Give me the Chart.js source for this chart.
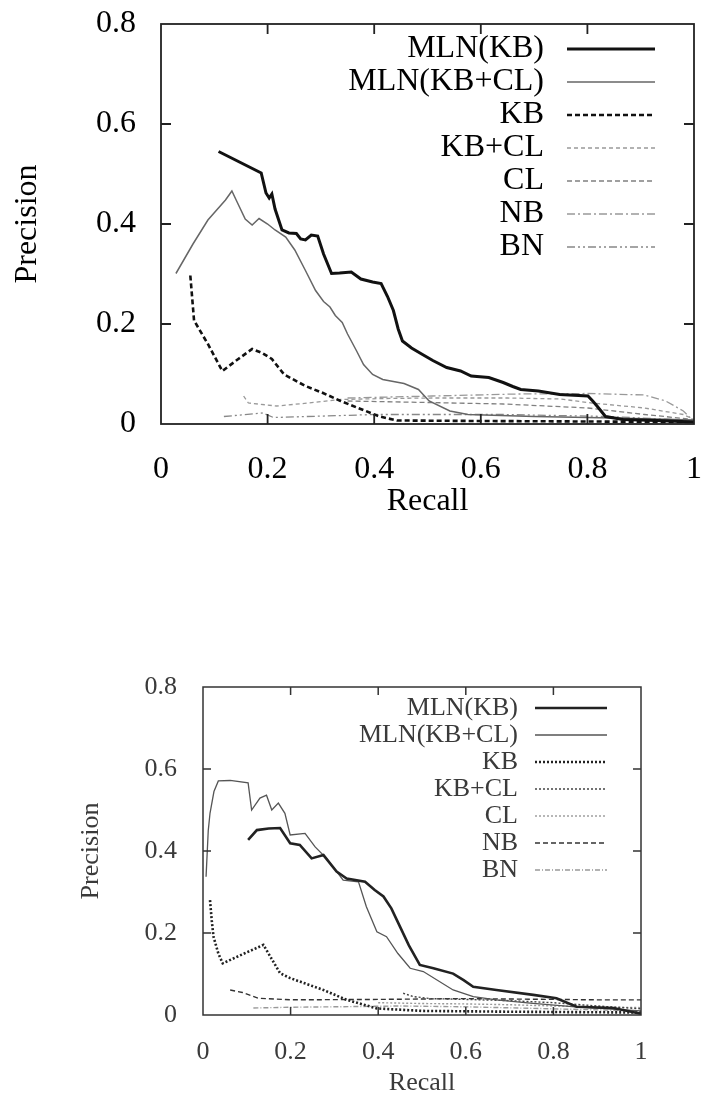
<!DOCTYPE html>
<html>
<head>
<meta charset="utf-8">
<script src="https://cdn.jsdelivr.net/npm/chart.js@4/dist/chart.umd.min.js"></script>
<style>
html, body { margin: 0; padding: 0; background: #fff; }
body { width: 704px; height: 1094px; position: relative; overflow: hidden; }
#top { position: absolute; left: 0; top: 0; }
#bottom { position: absolute; left: 0; top: 560px; }
</style>
</head>
<body>
<canvas id="top" width="704" height="540"></canvas>
<canvas id="bottom" width="704" height="560"></canvas>
<script>
// tick values (same for both plots)
const xTicks = [0, 0.2, 0.4, 0.6, 0.8, 1];
const yTicks = [0, 0.2, 0.4, 0.6, 0.8];
const labels = ['MLN(KB)', 'MLN(KB+CL)', 'KB', 'KB+CL', 'CL', 'NB', 'BN'];

// upper plot: [recall, precision]
const top_mlnKB = [[0.108,0.545],[0.188,0.502],[0.197,0.462],[0.203,0.452],[0.208,0.46],[0.214,0.43],[0.227,0.388],[0.24,0.382],[0.254,0.381],[0.262,0.37],[0.271,0.368],[0.282,0.378],[0.294,0.376],[0.305,0.34],[0.32,0.301],[0.335,0.302],[0.357,0.304],[0.375,0.29],[0.397,0.284],[0.413,0.281],[0.425,0.255],[0.436,0.227],[0.445,0.19],[0.453,0.166],[0.47,0.152],[0.489,0.14],[0.51,0.127],[0.536,0.113],[0.562,0.106],[0.582,0.096],[0.615,0.093],[0.642,0.083],[0.66,0.075],[0.675,0.069],[0.708,0.066],[0.748,0.059],[0.801,0.056],[0.81,0.046],[0.818,0.036],[0.834,0.015],[0.867,0.009],[0.93,0.007],[1.0,0.004]];
const top_mlnKBCL = [[0.028,0.301],[0.06,0.36],[0.088,0.408],[0.121,0.448],[0.133,0.466],[0.141,0.448],[0.158,0.41],[0.171,0.398],[0.184,0.411],[0.2,0.4],[0.214,0.388],[0.234,0.374],[0.251,0.348],[0.271,0.307],[0.29,0.267],[0.305,0.245],[0.317,0.234],[0.327,0.217],[0.34,0.203],[0.35,0.18],[0.367,0.146],[0.38,0.119],[0.397,0.099],[0.416,0.089],[0.456,0.081],[0.483,0.069],[0.503,0.046],[0.542,0.026],[0.576,0.019],[0.7,0.015],[0.85,0.012],[1.0,0.008]];
const top_KB = [[0.055,0.297],[0.062,0.207],[0.088,0.16],[0.115,0.106],[0.145,0.13],[0.171,0.15],[0.19,0.142],[0.208,0.13],[0.231,0.099],[0.271,0.076],[0.304,0.062],[0.337,0.046],[0.377,0.029],[0.41,0.015],[0.443,0.007],[0.6,0.006],[0.8,0.005],[1.0,0.004]];
const top_KBCL = [[0.155,0.056],[0.164,0.042],[0.217,0.036],[0.277,0.042],[0.337,0.049],[0.42,0.051],[0.509,0.052],[0.65,0.052],[0.75,0.05],[0.808,0.042],[0.907,0.032],[0.98,0.019],[1.0,0.009]];
const top_CL = [[0.35,0.046],[0.5,0.043],[0.642,0.04],[0.801,0.032],[0.907,0.019],[1.0,0.009]];
const top_NB = [[0.35,0.052],[0.509,0.056],[0.668,0.06],[0.8,0.061],[0.907,0.058],[0.947,0.046],[0.98,0.026],[1.0,0.005]];
const top_BN = [[0.118,0.015],[0.191,0.022],[0.211,0.013],[0.403,0.019],[0.642,0.019],[0.841,0.015],[1.0,0.007]];

// lower plot: [recall, precision]
const bot_mlnKB = [[0.103,0.427],[0.123,0.451],[0.15,0.455],[0.176,0.456],[0.199,0.419],[0.221,0.415],[0.248,0.382],[0.275,0.39],[0.305,0.35],[0.328,0.333],[0.37,0.325],[0.392,0.305],[0.412,0.289],[0.43,0.26],[0.45,0.215],[0.47,0.17],[0.495,0.122],[0.526,0.114],[0.571,0.101],[0.595,0.085],[0.617,0.069],[0.67,0.061],[0.754,0.049],[0.807,0.041],[0.853,0.02],[0.937,0.017],[1.0,0.003]];
const bot_mlnKBCL = [[0.007,0.337],[0.012,0.45],[0.016,0.492],[0.025,0.545],[0.035,0.571],[0.062,0.572],[0.103,0.566],[0.111,0.5],[0.13,0.529],[0.145,0.536],[0.157,0.5],[0.172,0.517],[0.187,0.492],[0.199,0.439],[0.233,0.443],[0.256,0.41],[0.282,0.382],[0.32,0.329],[0.355,0.325],[0.373,0.264],[0.397,0.203],[0.419,0.191],[0.445,0.15],[0.473,0.114],[0.503,0.106],[0.571,0.061],[0.617,0.045],[0.67,0.037],[0.747,0.029],[0.85,0.02],[1.0,0.01]];
const bot_KB = [[0.016,0.28],[0.02,0.23],[0.024,0.191],[0.035,0.15],[0.045,0.126],[0.09,0.148],[0.138,0.171],[0.155,0.14],[0.176,0.102],[0.199,0.09],[0.275,0.061],[0.328,0.037],[0.397,0.016],[0.5,0.01],[0.7,0.008],[1.0,0.006]];
const bot_KBCL = [[0.457,0.053],[0.48,0.045],[0.52,0.04],[0.6,0.038],[0.7,0.035],[0.8,0.03],[0.9,0.022],[1.0,0.015]];
const bot_CL = [[0.4,0.03],[0.5,0.028],[0.6,0.027],[0.7,0.025],[0.8,0.022],[0.9,0.02],[1.0,0.018]];
const bot_NB = [[0.062,0.061],[0.09,0.055],[0.126,0.041],[0.2,0.037],[0.4,0.038],[0.6,0.04],[0.8,0.038],[0.9,0.037],[1.0,0.037]];
const bot_BN = [[0.115,0.017],[0.2,0.019],[0.3,0.02],[0.45,0.022],[0.6,0.02],[0.8,0.015],[1.0,0.01]];

const serif = '"Liberation Serif", "Times New Roman", serif';

// frame with inward ticks on all four sides (gnuplot look)
const framePlugin = {
  id: 'frame',
  afterDatasetsDraw(chart, args, opts) {
    const ctx = chart.ctx, a = chart.chartArea;
    const xs = chart.scales.x, ys = chart.scales.y;
    ctx.save();
    ctx.setLineDash([]);
    ctx.strokeStyle = opts.color;
    ctx.lineWidth = opts.width;
    ctx.strokeRect(a.left, a.top, a.right - a.left, a.bottom - a.top);
    ctx.beginPath();
    xTicks.slice(1, -1).forEach(v => {
      const px = xs.getPixelForValue(v);
      ctx.moveTo(px, a.bottom); ctx.lineTo(px, a.bottom - opts.len);
      ctx.moveTo(px, a.top); ctx.lineTo(px, a.top + opts.len);
    });
    yTicks.slice(1, -1).forEach(v => {
      const py = ys.getPixelForValue(v);
      ctx.moveTo(a.left, py); ctx.lineTo(a.left + opts.len, py);
      ctx.moveTo(a.right, py); ctx.lineTo(a.right - opts.len, py);
    });
    ctx.stroke();
    ctx.restore();
  }
};

// key: right aligned text, line sample on its right
const keyPlugin = {
  id: 'key',
  afterDatasetsDraw(chart, args, opts) {
    const ctx = chart.ctx;
    ctx.save();
    chart.data.datasets.forEach((ds, i) => {
      const y = opts.firstRow + i * opts.rowGap;
      ctx.font = opts.font;
      ctx.fillStyle = opts.color;
      ctx.textAlign = 'right';
      ctx.textBaseline = 'middle';
      ctx.fillText(ds.label, opts.textRight, y);
      ctx.beginPath();
      ctx.setLineDash(ds.borderDash || []);
      ctx.strokeStyle = ds.borderColor;
      ctx.lineWidth = ds.borderWidth;
      ctx.moveTo(opts.x1, y);
      ctx.lineTo(opts.x2, y);
      ctx.stroke();
    });
    ctx.restore();
  }
};

function noPad(s) {
  s.paddingLeft = 0; s.paddingRight = 0; s.paddingTop = 0; s.paddingBottom = 0;
}

function makeChart(id, series, styles, cfg) {
  const datasets = series.map((s, i) => ({
    label: labels[i],
    data: s.map(p => ({ x: p[0], y: p[1] })),
    borderColor: styles[i][0],
    borderWidth: styles[i][1],
    borderDash: styles[i][2],
    pointRadius: 0,
    tension: 0,
    fill: false
  }));
  const tickFont = { family: serif, size: cfg.fontSize };
  new Chart(document.getElementById(id), {
    type: 'line',
    data: { datasets: datasets },
    options: {
      responsive: false,
      animation: false,
      layout: { padding: { top: cfg.padTop, right: cfg.padRight, left: 0, bottom: 0 } },
      plugins: {
        legend: { display: false },
        tooltip: { enabled: false },
        frame: cfg.frame,
        key: cfg.key
      },
      scales: {
        x: {
          type: 'linear', min: 0, max: 1,
          afterBuildTicks: s => { s.ticks = xTicks.map(v => ({ value: v })); },
          afterFit: s => { s.height = cfg.xH; noPad(s); },
          grid: { display: false },
          border: { display: false },
          ticks: { font: tickFont, color: cfg.color, padding: cfg.xTickPad, maxRotation: 0,
                    callback: v => String(+v.toFixed(1)) },
          title: { display: true, text: 'Recall', font: tickFont, color: cfg.color,
                   padding: { top: 0, bottom: cfg.xTitlePad } }
        },
        y: {
          type: 'linear', min: 0, max: 0.8,
          afterBuildTicks: s => { s.ticks = yTicks.map(v => ({ value: v })); },
          afterFit: s => { s.width = cfg.yW; noPad(s); },
          grid: { display: false },
          border: { display: false },
          ticks: { font: tickFont, color: cfg.color, padding: cfg.yTickPad,
                   callback: v => String(+v.toFixed(1)) },
          title: { display: true, text: 'Precision', font: tickFont, color: cfg.color,
                   padding: { top: cfg.yTitlePad, bottom: 0 } }
        }
      }
    },
    plugins: [framePlugin, keyPlugin]
  });
}

makeChart('top',
  [top_mlnKB, top_mlnKBCL, top_KB, top_KBCL, top_CL, top_NB, top_BN],
  [['#111', 3, []], ['#666', 1.5, []], ['#111', 2.6, [5, 3]], ['#999', 1.3, [4, 3]],
   ['#808080', 1.3, [5, 3]], ['#999', 1.3, [8, 3, 2, 3]], ['#888', 1.3, [8, 3, 2, 3, 2, 3]]],
  {
    fontSize: 32, color: '#000', padTop: 24, padRight: 10, xH: 116, yW: 161,
    xTickPad: 18, yTickPad: 17, xTitlePad: 19, yTitlePad: 8,
    frame: { color: '#222', width: 1.8, len: 10 },
    key: { font: '32px ' + serif, color: '#000', firstRow: 49, rowGap: 33, textRight: 544, x1: 567, x2: 655 }
  });

makeChart('bottom',
  [bot_mlnKB, bot_mlnKBCL, bot_KB, bot_KBCL, bot_CL, bot_NB, bot_BN],
  [['#222', 2.6, []], ['#555', 1.3, []], ['#222', 2.6, [2, 2]], ['#444', 1.4, [2, 2]],
   ['#999', 1.4, [2, 2]], ['#333', 1.4, [5, 3]], ['#999', 1.4, [5, 2, 1, 2]]],
  {
    fontSize: 26, color: '#3a3a3a', padTop: 127, padRight: 63, xH: 105, yW: 203,
    xTickPad: 14, yTickPad: 18, xTitlePad: 21, yTitlePad: 76,
    frame: { color: '#333', width: 1.5, len: 8 },
    key: { font: '26px ' + serif, color: '#3a3a3a', firstRow: 148, rowGap: 27, textRight: 518, x1: 535, x2: 607 }
  });
</script>
</body>
</html>
